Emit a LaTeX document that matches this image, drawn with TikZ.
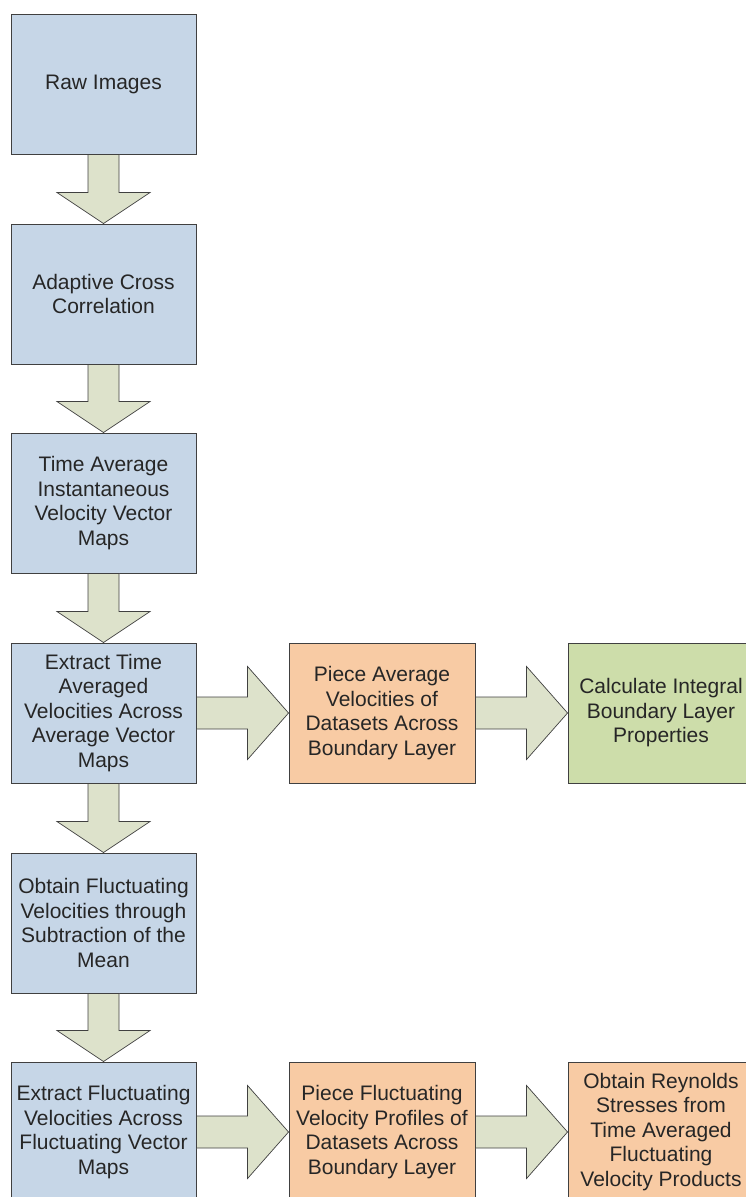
\documentclass[tikz,border=0pt]{standalone}
\usepackage{fontspec}
\setmainfont{Liberation Sans}
\usetikzlibrary{calc}

\definecolor{blueFill}{RGB}{198,214,231}
\definecolor{orangeFill}{RGB}{248,203,164}
\definecolor{greenFill}{RGB}{205,221,170}
\definecolor{arrowFill}{RGB}{221,226,203}
\definecolor{edgeCol}{RGB}{64,64,64}
\definecolor{textCol}{RGB}{38,38,38}

\tikzset{
  box/.style={draw=edgeCol, line width=0.9bp, minimum width=185bp, minimum height=140bp,
    inner sep=0pt, align=center, text=textCol,
    font=\fontsize{21bp}{24.5bp}\selectfont},
  bluebox/.style={box, fill=blueFill},
  orangebox/.style={box, fill=orangeFill},
  greenbox/.style={box, fill=greenFill},
  blockarrow/.style={draw=edgeCol, fill=arrowFill, line width=0.7bp, line join=miter},
  % block arrow pointing down, from a box's south anchor to the next box's north anchor
  downarrow/.style={blockarrow, to path={
    let \p1=(\tikztostart), \p2=(\tikztotarget) in
    (\x1-15.5bp,\y1) -- (\x1-15.5bp,\y2+31bp) -- (\x1-46.5bp,\y2+31bp) -- (\x2,\y2)
    -- (\x1+46.5bp,\y2+31bp) -- (\x1+15.5bp,\y2+31bp) -- (\x1+15.5bp,\y1) -- cycle}},
  % block arrow pointing right, from east anchor to west anchor
  rightarrow/.style={blockarrow, to path={
    let \p1=(\tikztostart), \p2=(\tikztotarget) in
    (\x1,\y1+16bp) -- (\x2-41bp,\y1+16bp) -- (\x2-41bp,\y1+46.5bp) -- (\x2,\y2)
    -- (\x2-41bp,\y1-46.5bp) -- (\x2-41bp,\y1-16bp) -- (\x1,\y1-16bp) -- cycle}},
}

\begin{document}
\begin{tikzpicture}[x=1bp, y=-1bp]
  \useasboundingbox (0,0) rectangle (746,1197);

  % main column
  \node[bluebox] (raw)   at (103.5,84)   {Raw Images};
  \node[bluebox] (acc)   at (103.5,294)  {Adaptive Cross\\Correlation};
  \node[bluebox] (tavg)  at (103.5,503)  {Time Average\\Instantaneous\\Velocity Vector\\Maps};
  \node[bluebox] (ext)   at (103.5,713)  {Extract Time\\Averaged\\Velocities Across\\Average Vector\\Maps};
  \node[bluebox] (fluc)  at (103.5,923)  {Obtain Fluctuating\\Velocities through\\Subtraction of the\\Mean};
  \node[bluebox] (extf)  at (103.5,1132) {Extract Fluctuating\\Velocities Across\\Fluctuating Vector\\Maps};

  % side branches
  \node[orangebox, minimum width=186bp] (piece)  at (382,713)  {Piece Average\\Velocities of\\Datasets Across\\Boundary Layer};
  \node[greenbox,  minimum width=186bp] (calc)   at (661,713)  {Calculate Integral\\Boundary Layer\\Properties};
  \node[orangebox, minimum width=186bp] (piecef) at (382,1132) {Piece Fluctuating\\Velocity Profiles of\\Datasets Across\\Boundary Layer};
  \node[orangebox, minimum width=186bp] (reyn)   at (661,1132) {Obtain Reynolds\\Stresses from\\Time Averaged\\Fluctuating\\Velocity Products};

  % connectors
  \draw[downarrow] (raw.south)  to (acc.north);
  \draw[downarrow] (acc.south)  to (tavg.north);
  \draw[downarrow] (tavg.south) to (ext.north);
  \draw[downarrow] (ext.south)  to (fluc.north);
  \draw[downarrow] (fluc.south) to (extf.north);
  \draw[rightarrow] (ext.east)    to (piece.west);
  \draw[rightarrow] (piece.east)  to (calc.west);
  \draw[rightarrow] (extf.east)   to (piecef.west);
  \draw[rightarrow] (piecef.east) to (reyn.west);
\end{tikzpicture}
\end{document}
